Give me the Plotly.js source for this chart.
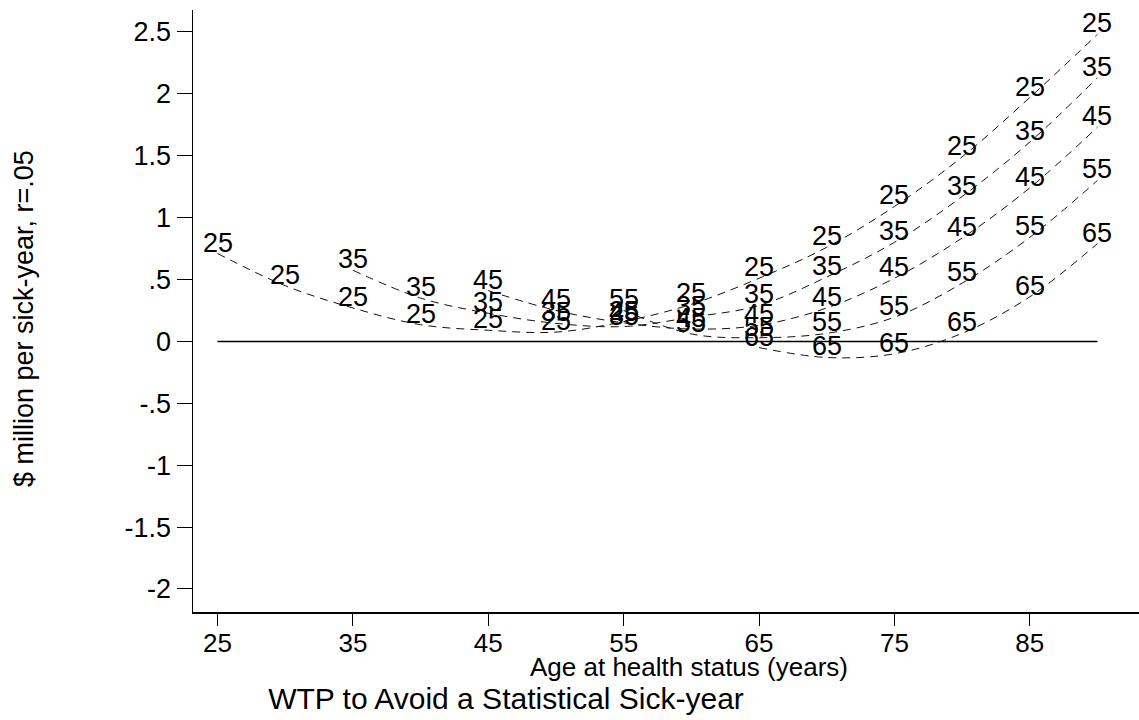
<!DOCTYPE html>
<html>
<head>
<meta charset="utf-8">
<script src="https://cdn.plot.ly/plotly-3.0.1.min.js"></script>
<style>html,body{margin:0;padding:0;background:#fff;}#chart{width:1139px;height:720px;}</style>
</head>
<body>
<div id="chart"></div>
<script>
// Age at health status (years) for each cohort curve
const ages25 = [25,30,35,40,45,50,55,60,65,70,75,80,85,90];
const ages35 = [35,40,45,50,55,60,65,70,75,80,85,90];
const ages45 = [45,50,55,60,65,70,75,80,85,90];
const ages55 = [55,60,65,70,75,80,85,90];
const ages65 = [65,70,75,80,85,90];

// $ million per sick-year, r=.05
const wtp25 = [0.71,0.45,0.27,0.135,0.09,0.075,0.16,0.30,0.51,0.76,1.09,1.49,1.97,2.48];
const wtp35 = [0.575,0.35,0.227,0.146,0.12,0.195,0.29,0.52,0.80,1.17,1.61,2.13];
const wtp45 = [0.41,0.25,0.15,0.10,0.13,0.27,0.51,0.835,1.24,1.73];
const wtp55 = [0.25,0.06,0.03,0.065,0.195,0.47,0.84,1.30];
const wtp65 = [-0.05,-0.13,-0.10,0.065,0.36,0.79];

const cohortLabels = ["25","35","45","55","65"];

const zeroX = [25, 90];
const zeroY = [0, 0];

const xTickVals = [25,35,45,55,65,75,85];
const xTickText = ["25","35","45","55","65","75","85"];
const yTickVals = [-2,-1.5,-1,-0.5,0,0.5,1,1.5,2,2.5];
const yTickText = ["-2","-1.5","-1","-.5","0",".5","1","1.5","2","2.5"];

const FONT = "Liberation Sans, Arial, Helvetica, sans-serif";

const series = [
  [ages25, wtp25], [ages35, wtp35], [ages45, wtp45], [ages55, wtp55], [ages65, wtp65]
];

const traces = [{
  x: zeroX, y: zeroY, mode: "lines", type: "scatter",
  line: {color: "#000", width: 1.5}, hoverinfo: "skip", showlegend: false
}];

const labelAnnotations = [];
series.forEach((s, i) => {
  traces.push({
    x: s[0], y: s[1], type: "scatter", mode: "lines",
    line: {color: "#111", width: 1, dash: "8px,6px", shape: "spline", smoothing: 1},
    showlegend: false, name: cohortLabels[i]
  });
  s[0].forEach((age, j) => {
    labelAnnotations.push({
      x: age, y: s[1][j], xref: "x", yref: "y",
      text: cohortLabels[i], showarrow: false,
      xanchor: "center", yanchor: "middle", yshift: 11,
      font: {family: FONT, size: 27, color: "#000"}
    });
  });
});

const layout = {
  width: 1139, height: 720,
  paper_bgcolor: "#fff", plot_bgcolor: "#fff",
  margin: {l: 193, r: 0, t: 10, b: 108, pad: 0},
  font: {family: FONT, color: "#000"},
  showlegend: false,
  title: {
    text: "WTP to Avoid a Statistical Sick-year",
    font: {family: FONT, size: 30, color: "#000"},
    xref: "container", yref: "container",
    x: 506/1139, y: 1 - 698/720, xanchor: "center", yanchor: "middle"
  },
  xaxis: {
    range: [23.19, 93.07],
    tickvals: xTickVals, ticktext: xTickText,
    ticks: "outside", ticklen: 12, tickwidth: 1, tickcolor: "#000",
    ticklabelstandoff: -5,
    tickfont: {family: FONT, size: 26, color: "#000"},
    showline: true, linecolor: "#000", linewidth: 1.5,
    showgrid: false, zeroline: false, fixedrange: true
  },
  yaxis: {
    range: [-2.186, 2.677],
    tickvals: yTickVals, ticktext: yTickText,
    ticks: "outside", ticklen: 15, tickwidth: 1, tickcolor: "#000",
    tickfont: {family: FONT, size: 27, color: "#000"},
    showline: true, linecolor: "#000", linewidth: 1.5,
    showgrid: false, zeroline: false, fixedrange: true
  },
  annotations: labelAnnotations.concat([
    {
      text: "Age at health status (years)", xref: "paper", yref: "paper",
      x: (689-193)/946, y: (612-667)/602, xanchor: "center", yanchor: "middle",
      showarrow: false, font: {family: FONT, size: 26, color: "#000"}
    },
    {
      text: "$ million per sick-year, r=.05", xref: "paper", yref: "paper",
      x: (24-193)/946, y: (612-319)/602, xanchor: "center", yanchor: "middle",
      textangle: -90, showarrow: false, font: {family: FONT, size: 27, color: "#000"}
    }
  ])
};

Plotly.newPlot("chart", traces, layout, {displayModeBar: false, staticPlot: true});
</script>
</body>
</html>
